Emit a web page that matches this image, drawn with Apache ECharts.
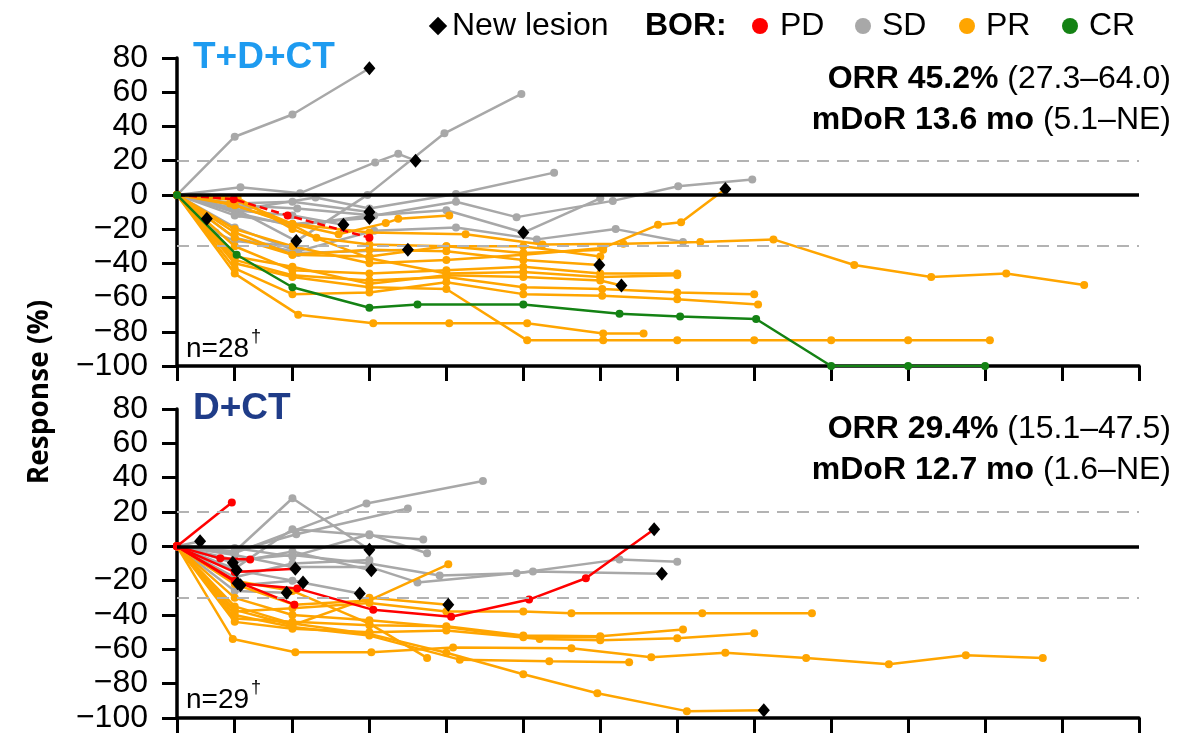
<!DOCTYPE html>
<html>
<head>
<meta charset="utf-8">
<script src="https://cdn.jsdelivr.net/npm/echarts@6/dist/echarts.min.js"></script>
<style>
  html, body { margin: 0; padding: 0; background: #fff; }
  #chart { width: 1178px; height: 736px; }
</style>
</head>
<body>
<div id="chart"></div>
<script>
// x = weeks since baseline, y = change from baseline (%)
var weekTicks = [0, 6, 12, 20, 28, 36, 44, 52, 60, 68, 76, 84, 92, 100];

// ---- T+D+CT ----
var topPD = [
  [[0, 0], [5.9, -2.5], [11.5, -12], [20, -25]]
];
var topCR = [
  [[0, 0], [6.2, -35], [12, -54], [20, -66], [25, -64], [36, -64], [46, -69.5], [52.3, -71], [60.2, -72.5], [68, -100], [76, -100], [84, -100]]
];
var topSD = [
  [[0, 0], [6, 34], [12, 47], [20, 74]],
  [[0, 0], [6.6, 4.5], [12.8, 1], [20.6, 19], [23, 24], [24.8, 20]],
  [[0, 0], [6, -8], [12.4, -27], [19.8, 0], [27.8, 36], [35.8, 59]],
  [[0, 0], [6, -9], [14.4, -1.5], [20, -8], [29, 0.5], [39.2, 13]],
  [[0, 0], [6, -6], [12.5, -8], [20.5, -12], [29, -4], [35.3, -13], [45.3, -3.5], [52.1, 5], [59.8, 9]],
  [[0, 0], [6.5, -11], [12, -18], [20, -12], [28, -9], [36, -22], [44, -2]],
  [[0, 0], [6, -19], [12.5, -33], [20.5, -21], [29, -19], [37.4, -26], [45.6, -20], [52.6, -27.5]],
  [[0, 0], [6, -9], [12, -12], [17.3, -17.5]],
  [[0, 0], [6, -12], [12, -17], [20, -13.5]],
  [[0, 0], [6, -25], [12.6, -34], [24, -32]],
  [[0, 0], [4, -22], [6, -27], [12, -30]],
  [[0, 0], [6, -5], [12, -4], [20, -10]],
  [[0, 0], [3.1, -14]]
];
var topPR = [
  [[0, 0], [6, -3], [12, -17], [20, -22], [30, -23], [38, -29], [46.4, -28.5], [54.4, -27.5], [62, -26], [70.4, -41], [78.4, -48], [86.2, -46], [94.3, -52.6]],
  [[0, 0], [6, -20], [12, -30], [20, -40], [28, -38], [36, -35], [44.3, -31], [50, -17.5], [52.4, -16], [57, 3.5]],
  [[0, 0], [6, -40], [12, -48], [20, -54], [28, -55], [36.4, -85], [44.3, -85], [52, -85], [60, -85], [68, -85], [76, -85], [84.5, -85]],
  [[0, 0], [6, -46], [12.6, -70], [20.4, -75], [28.3, -75], [36.4, -75], [44.3, -81], [48.5, -81]],
  [[0, 0], [6, -38], [12, -47], [20, -50], [28, -48], [36, -54], [44.2, -55], [52, -57], [60, -58]],
  [[0, 0], [6, -43], [12, -58], [20, -57], [28, -51], [36, -58], [44.2, -59], [52, -61], [60.4, -64]],
  [[0, 0], [6, -30], [12, -44], [20, -46], [28, -44], [36, -42], [44, -46], [52, -46]],
  [[0, 0], [6, -36], [12, -42], [20, -52], [28, -47], [36, -48], [44, -50], [46.2, -53]],
  [[0, 0], [6, -25], [12, -35], [20, -32], [28, -33], [36, -38], [43.9, -41]],
  [[0, 0], [6, -6], [12, -17], [16.8, -23], [21.7, -16.5], [23, -14], [28.3, -12]],
  [[0, 0], [6, -22], [12, -35], [20, -36], [28, -30], [36, -34], [44.3, -32]],
  [[0, 0], [5.5, -5], [12, -17.5], [14.5, -25], [20, -29], [28, -30], [36, -30], [44, -36]],
  [[0, 0], [6.3, -1.7], [12, -20], [20, -37], [28, -46], [36, -45], [44, -48], [52, -47]]
];
var topNew = [[20, 74], [24.8, 20], [12.4, -27], [36, -22], [17.3, -17.5], [20, -13.5], [20, -10], [24, -32], [3.1, -14], [57, 3.5], [46.2, -53], [43.9, -41]];

// ---- D+CT ----
var botPD = [
  [[0, 0], [5.7, 25.5]],
  [[0, 0], [6.3, -21.5], [12.5, -24.5], [20.4, -37], [28.5, -41], [36.6, -31], [42.5, -18.6], [49.6, 10]],
  [[0, 0], [4.5, -7], [7.6, -7.6]],
  [[0, 0], [6, -15], [12.3, -13]],
  [[0, 0], [6, -20], [12.2, -34]]
];
var botSD = [
  [[0, 0], [6, -4], [19.7, 25], [31.8, 38]],
  [[0, 0], [6, -3], [12, 28], [20, -2]],
  [[0, 0], [6, -3], [12.4, 7], [24, 22]],
  [[0, 0], [6, -13], [12, 10], [20, 6.5], [25.6, 4]],
  [[0, 0], [6, -8], [12, -5], [20, -10], [27.3, -17], [35.3, -15.7], [46, -7.6], [52, -9]],
  [[0, 0], [6, -5], [12, -12], [20, -12], [25, -21], [37, -14.6], [50.4, -16]],
  [[0, 0], [2.4, 3]],
  [[0, 0], [5.8, -9.5], [12, -3], [20.2, -14]],
  [[0, 0], [6.2, -14], [13.1, -21]],
  [[0, 0], [6, -18], [12, -10], [20, -8]],
  [[0, 0], [6, -26], [11.4, -27]],
  [[0, 0], [6.6, -22.7], [12, -20], [19, -27.5]],
  [[0, 0], [6, -1], [12, -6], [20, 7], [26, -4]]
];
var botPR = [
  [[0, 0], [5.8, -54], [12.3, -61.7], [20.2, -61.7], [28.7, -59], [41, -59.4], [49.3, -64.6], [57, -62], [65.4, -65], [74, -68.7], [82, -63.5], [90, -65]],
  [[0, 0], [6, -40], [12, -47], [20, -52], [29.4, -66], [38.7, -67], [47, -67.5]],
  [[0, 0], [6, -35], [12, -45], [20, -51], [28, -62], [36, -74.5], [43.7, -85.6], [53, -96], [61, -95.5]],
  [[0, 0], [6, -38], [12, -36], [20, -33], [28, -38], [36, -38], [41, -39], [54.6, -39], [66, -39]],
  [[0, 0], [6, -42], [12, -44], [20, -46], [28, -46.6], [36, -52], [44, -52.4], [52.6, -48.5]],
  [[0, 0], [6, -44], [12, -48], [20, -50], [28, -49], [37.7, -54], [44, -54.7], [52, -53.6], [60, -50.6]],
  [[0, 0], [6, -22], [12.2, -34], [20, -31.5], [28.2, -10.5]],
  [[0, 0], [6, -20], [12, -26], [20, -45], [26, -65]],
  [[0, 0], [6, -37], [12, -46], [20, -30], [28.2, -34]],
  [[0, 0], [6, -30], [12, -40], [20, -43], [28, -47], [36, -53], [44, -53]]
];
var botNew = [[2.4, 3], [5.8, -9.5], [6.2, -14], [6.3, -21.5], [6.6, -22.7], [12.3, -13], [11.4, -27], [13.1, -21], [20, -2], [20.2, -14], [19, -27.5], [28.2, -34], [49.6, 10], [50.4, -16], [61, -95.5]];

var C_PD = '#ff0000', C_SD = '#a8a8a8', C_PR = '#ffa500', C_CR = '#148214';
var FONT = '"Liberation Sans", Arial, sans-serif';

function lineSeries(lines, color, axis, z, dashed) {
  return lines.map(function (d) {
    return {
      type: 'line', xAxisIndex: axis, yAxisIndex: axis, data: d,
      symbol: 'circle', symbolSize: 8, z: z, silent: true,
      lineStyle: { color: color, width: 2.5, type: dashed ? [8, 4] : 'solid' },
      itemStyle: { color: color, opacity: 1 }
    };
  });
}
function newLesions(pts, axis) {
  return {
    type: 'scatter', xAxisIndex: axis, yAxisIndex: axis, data: pts,
    symbol: 'diamond', symbolSize: [12, 14], z: 20, silent: true,
    itemStyle: { color: '#000', opacity: 1 }
  };
}
function refLines(axis) {
  return {
    type: 'line', xAxisIndex: axis, yAxisIndex: axis, data: [], z: 1, silent: true,
    markLine: {
      silent: true, symbol: ['none', 'none'], label: { show: false },
      data: [
        { yAxis: 20, lineStyle: { color: '#b3b3b3', width: 2, type: [12, 8] } },
        { yAxis: -30, lineStyle: { color: '#b3b3b3', width: 2, type: [12, 8] } },
        { yAxis: 0, lineStyle: { color: '#000', width: 3.5, type: 'solid' } }
      ]
    }
  };
}
function xAx(grid) {
  return {
    type: 'value', gridIndex: grid, min: 0, max: 100,
    axisLine: { onZero: false, lineStyle: { color: '#000', width: 3.5 } },
    axisTick: { customValues: weekTicks, length: 15, lineStyle: { color: '#000', width: 3 } },
    axisLabel: { show: false }, splitLine: { show: false }
  };
}
function yAx(grid) {
  return {
    type: 'value', gridIndex: grid, min: -100, max: 80, interval: 20,
    axisLine: { show: true, onZero: false, lineStyle: { color: '#000', width: 3.5 } },
    axisTick: { show: true, length: 15, lineStyle: { color: '#000', width: 3 } },
    axisLabel: {
      color: '#000', fontSize: 32, fontFamily: FONT, margin: 29,
      formatter: function (v) { return v < 0 ? '\u2212' + Math.abs(v) : String(v); }
    },
    splitLine: { show: false }
  };
}

function txt(x, y, text, opts) {
  var s = Object.assign({ text: text, fontSize: 32, fontFamily: FONT, fill: '#000', align: 'left', verticalAlign: 'middle' }, opts || {});
  return { type: 'text', x: x, y: y, silent: true, style: s };
}
var richBold = { b: { fontWeight: 'bold', fontSize: 32, fontFamily: FONT }, n: { fontSize: 32, fontFamily: FONT } };

var series = [].concat(
  refLines(0), refLines(1),
  lineSeries(topSD, C_SD, 0, 2), lineSeries(topPR, C_PR, 0, 3), lineSeries(topPD, C_PD, 0, 4, true), lineSeries(topCR, C_CR, 0, 5),
  lineSeries(botSD, C_SD, 1, 2), lineSeries(botPR, C_PR, 1, 3), lineSeries(botPD, C_PD, 1, 4),
  newLesions(topNew, 0), newLesions(botNew, 1)
);

var chart = echarts.init(document.getElementById('chart'));
chart.setOption({
  animation: false,
  grid: [
    { left: 177, top: 58, width: 962, height: 308 },
    { left: 177, top: 409, width: 962, height: 309 }
  ],
  xAxis: [xAx(0), xAx(1)],
  yAxis: [yAx(0), yAx(1)],
  series: series,
  graphic: [
    // y-axis title
    { type: 'text', x: 40, y: 392, rotation: Math.PI / 2, silent: true,
      style: { text: 'Response (%)', fontSize: 28, fontWeight: 'bold', fontFamily: '"Open Sans", sans-serif', fill: '#000', align: 'center', verticalAlign: 'middle' } },
    // legend
    { type: 'rect', x: 438, y: 26, rotation: Math.PI / 4, silent: true, shape: { x: -6.5, y: -6.5, width: 13, height: 13 }, style: { fill: '#000' } },
    txt(452, 26, 'New lesion'),
    txt(645, 26, 'BOR:', { fontWeight: 'bold' }),
    { type: 'circle', silent: true, shape: { cx: 760, cy: 26, r: 8 }, style: { fill: C_PD } },
    txt(780, 26, 'PD'),
    { type: 'circle', silent: true, shape: { cx: 863, cy: 26, r: 8 }, style: { fill: C_SD } },
    txt(882, 26, 'SD'),
    { type: 'circle', silent: true, shape: { cx: 967, cy: 26, r: 8 }, style: { fill: C_PR } },
    txt(986, 26, 'PR'),
    { type: 'circle', silent: true, shape: { cx: 1070, cy: 26, r: 8 }, style: { fill: C_CR } },
    txt(1089, 26, 'CR'),
    // panel titles
    txt(193, 58, 'T+D+CT', { fontSize: 37, fontWeight: 'bold', fill: '#1e9bf0' }),
    txt(193, 409, 'D+CT', { fontSize: 37, fontWeight: 'bold', fill: '#1f3c88' }),
    // stats
    txt(1171, 79, '{b|ORR 45.2%} {n|(27.3\u201364.0)}', { align: 'right', rich: richBold }),
    txt(1171, 120, '{b|mDoR 13.6 mo} {n|(5.1\u2013NE)}', { align: 'right', rich: richBold }),
    txt(1171, 429, '{b|ORR 29.4%} {n|(15.1\u201347.5)}', { align: 'right', rich: richBold }),
    txt(1171, 470, '{b|mDoR 12.7 mo} {n|(1.6\u2013NE)}', { align: 'right', rich: richBold }),
    // n labels
    txt(186, 349, 'n=28', { fontSize: 28 }),
    txt(251, 337, '\u2020', { fontSize: 18 }),
    txt(186, 700, 'n=29', { fontSize: 28 }),
    txt(251, 688, '\u2020', { fontSize: 18 })
  ]
});
</script>
</body>
</html>
